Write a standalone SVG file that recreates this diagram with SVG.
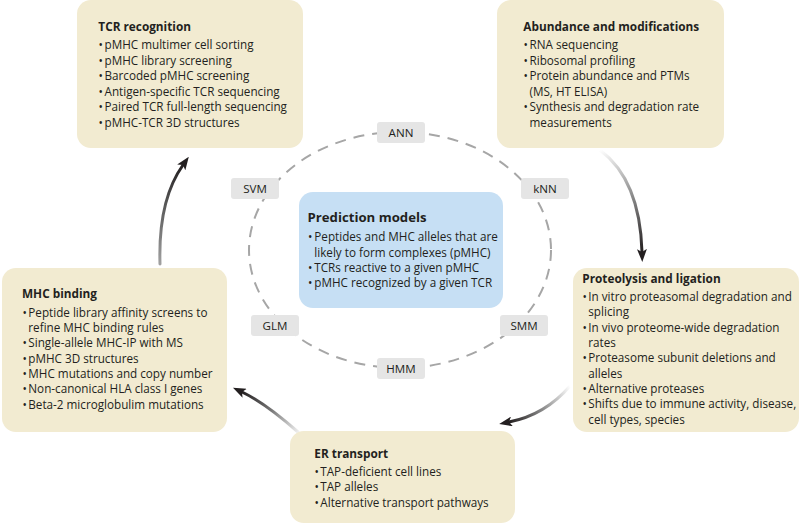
<svg xmlns="http://www.w3.org/2000/svg" width="800" height="524" viewBox="0 0 800 524">
<style>
.box{fill:#f2ebd1}
.pm{fill:#c6dff4}
.lab{fill:#e5e5e5}
text{font-family:"Open Sans","Liberation Sans",sans-serif;fill:#231f20}
.t{font-size:11.8px;font-weight:bold}
.b{font-size:11.7px}
.l{font-size:11.6px;text-anchor:middle}
.ct{font-size:13.2px;font-weight:bold}
.arr{fill:none;stroke-width:3;stroke-linecap:round}
</style>
<defs>
<marker id="ah" viewBox="0 0 13 10" markerUnits="userSpaceOnUse" markerWidth="13" markerHeight="10" refX="3" refY="5" orient="auto">
<path d="M0,0 L13,5 L0,10 L3,5 z" fill="#231f20"/>
</marker>
<linearGradient id="g1" gradientUnits="userSpaceOnUse" x1="600" y1="150" x2="642" y2="252">
<stop offset="0" stop-color="#ffffff"/><stop offset="0.5" stop-color="#8a8a8a"/><stop offset="1" stop-color="#231f20"/>
</linearGradient>
<linearGradient id="g2" gradientUnits="userSpaceOnUse" x1="570" y1="386" x2="509" y2="422">
<stop offset="0" stop-color="#ffffff"/><stop offset="0.5" stop-color="#8a8a8a"/><stop offset="1" stop-color="#231f20"/>
</linearGradient>
<linearGradient id="g3" gradientUnits="userSpaceOnUse" x1="298" y1="432" x2="242" y2="392">
<stop offset="0" stop-color="#eeeeee"/><stop offset="0.5" stop-color="#777777"/><stop offset="1" stop-color="#231f20"/>
</linearGradient>
<linearGradient id="g4" gradientUnits="userSpaceOnUse" x1="160" y1="264" x2="183" y2="165">
<stop offset="0" stop-color="#a0a0a0"/><stop offset="0.6" stop-color="#555555"/><stop offset="1" stop-color="#231f20"/>
</linearGradient>
</defs>

<g id="cycle">
<ellipse cx="400" cy="250" rx="151" ry="118" fill="none" stroke="#a6a6a6" stroke-width="2" stroke-dasharray="11 8"/>
</g>

<g id="connectors">
<path class="arr" d="M600,150 Q640,180 642,252" stroke="url(#g1)" marker-end="url(#ah)"/>
<path class="arr" d="M570,386 Q545,415 509,422" stroke="url(#g2)" marker-end="url(#ah)"/>
<path class="arr" d="M298,432 Q265,403 242,392" stroke="url(#g3)" marker-end="url(#ah)"/>
<path class="arr" d="M160,264 Q158,200 183,165" stroke="url(#g4)" marker-end="url(#ah)"/>
</g>

<g id="model-ANN"><rect class="lab" x="377" y="122" width="48" height="21" rx="3"/><text class="l" x="401" y="136.5">ANN</text></g>
<g id="model-kNN"><rect class="lab" x="521" y="178" width="48" height="21" rx="3"/><text class="l" x="545" y="192.5">kNN</text></g>
<g id="model-SVM"><rect class="lab" x="231" y="178" width="48" height="21" rx="3"/><text class="l" x="255" y="192.5">SVM</text></g>
<g id="model-GLM"><rect class="lab" x="251" y="315" width="48" height="21" rx="3"/><text class="l" x="275" y="329.5">GLM</text></g>
<g id="model-SMM"><rect class="lab" x="500" y="315" width="48" height="21" rx="3"/><text class="l" x="524" y="329.5">SMM</text></g>
<g id="model-HMM"><rect class="lab" x="377" y="358" width="48" height="21" rx="3"/><text class="l" x="401" y="372.5">HMM</text></g>

<g id="prediction-models">
<rect class="pm" x="299" y="192" width="204" height="116" rx="14"/>
<text class="ct" x="307.5" y="221.5">Prediction models</text>
<text class="b" y="240.7"><tspan x="308">•</tspan><tspan x="314.3">Peptides and MHC alleles that are</tspan></text>
<text class="b" x="314.3" y="256.5">likely to form complexes (pMHC)</text>
<text class="b" y="271.8"><tspan x="308">•</tspan><tspan x="314.3">TCRs reactive to a given pMHC</tspan></text>
<text class="b" y="287.3"><tspan x="308">•</tspan><tspan x="314.3">pMHC recognized by a given TCR</tspan></text>
</g>

<g id="tcr-recognition">
<rect class="box" x="77" y="0" width="226" height="148" rx="14"/>
<text class="t" x="98.3" y="31">TCR recognition</text>
<text class="b" y="49"><tspan x="98.5">•</tspan><tspan x="104.5">pMHC multimer cell sorting</tspan></text>
<text class="b" y="64.5"><tspan x="98.5">•</tspan><tspan x="104.5">pMHC library screening</tspan></text>
<text class="b" y="80"><tspan x="98.5">•</tspan><tspan x="104.5">Barcoded pMHC screening</tspan></text>
<text class="b" y="95.5"><tspan x="98.5">•</tspan><tspan x="104.5">Antigen-specific TCR sequencing</tspan></text>
<text class="b" y="111"><tspan x="98.5">•</tspan><tspan x="104.5">Paired TCR full-length sequencing</tspan></text>
<text class="b" y="126.5"><tspan x="98.5">•</tspan><tspan x="104.5">pMHC-TCR 3D structures</tspan></text>
</g>

<g id="abundance-modifications">
<rect class="box" x="497" y="0" width="227" height="148" rx="14"/>
<text class="t" x="523.3" y="31">Abundance and modifications</text>
<text class="b" y="49"><tspan x="523.5">•</tspan><tspan x="529.5">RNA sequencing</tspan></text>
<text class="b" y="64.5"><tspan x="523.5">•</tspan><tspan x="529.5">Ribosomal profiling</tspan></text>
<text class="b" y="80"><tspan x="523.5">•</tspan><tspan x="529.5">Protein abundance and PTMs</tspan></text>
<text class="b" x="529.5" y="95.5">(MS, HT ELISA)</text>
<text class="b" y="111"><tspan x="523.5">•</tspan><tspan x="529.5">Synthesis and degradation rate</tspan></text>
<text class="b" x="529.5" y="126.5">measurements</text>
</g>

<g id="proteolysis-ligation">
<rect class="box" x="573" y="268" width="226" height="164" rx="14"/>
<text class="t" x="582.3" y="282.5">Proteolysis and ligation</text>
<text class="b" y="301"><tspan x="582.5">•</tspan><tspan x="588.3">In vitro proteasomal degradation and</tspan></text>
<text class="b" x="588.3" y="316">splicing</text>
<text class="b" y="331.5"><tspan x="582.5">•</tspan><tspan x="588.3">In vivo proteome-wide degradation</tspan></text>
<text class="b" x="588.3" y="346.8">rates</text>
<text class="b" y="362.3"><tspan x="582.5">•</tspan><tspan x="588.3">Proteasome subunit deletions and</tspan></text>
<text class="b" x="588.3" y="377.7">alleles</text>
<text class="b" y="393"><tspan x="582.5">•</tspan><tspan x="588.3">Alternative proteases</tspan></text>
<text class="b" y="408.4"><tspan x="582.5">•</tspan><tspan x="588.3">Shifts due to immune activity, disease,</tspan></text>
<text class="b" x="588.3" y="424">cell types, species</text>
</g>

<g id="mhc-binding">
<rect class="box" x="2" y="268" width="225" height="164" rx="14"/>
<text class="t" x="22" y="298">MHC binding</text>
<text class="b" y="316.8"><tspan x="22.5">•</tspan><tspan x="28.3">Peptide library affinity screens to</tspan></text>
<text class="b" x="28.3" y="332">refine MHC binding rules</text>
<text class="b" y="347.3"><tspan x="22.5">•</tspan><tspan x="28.3">Single-allele MHC-IP with MS</tspan></text>
<text class="b" y="362.6"><tspan x="22.5">•</tspan><tspan x="28.3">pMHC 3D structures</tspan></text>
<text class="b" y="378"><tspan x="22.5">•</tspan><tspan x="28.3">MHC mutations and copy number</tspan></text>
<text class="b" y="393.3"><tspan x="22.5">•</tspan><tspan x="28.3">Non-canonical HLA class I genes</tspan></text>
<text class="b" y="408.8"><tspan x="22.5">•</tspan><tspan x="28.3">Beta-2 microglobulim mutations</tspan></text>
</g>

<g id="er-transport">
<rect class="box" x="290" y="431" width="225" height="92" rx="14"/>
<text class="t" x="314.3" y="457.5">ER transport</text>
<text class="b" y="475.5"><tspan x="314.5">•</tspan><tspan x="320.3">TAP-deficient cell lines</tspan></text>
<text class="b" y="491.3"><tspan x="314.5">•</tspan><tspan x="320.3">TAP alleles</tspan></text>
<text class="b" y="507"><tspan x="314.5">•</tspan><tspan x="320.3">Alternative transport pathways</tspan></text>
</g>
</svg>
